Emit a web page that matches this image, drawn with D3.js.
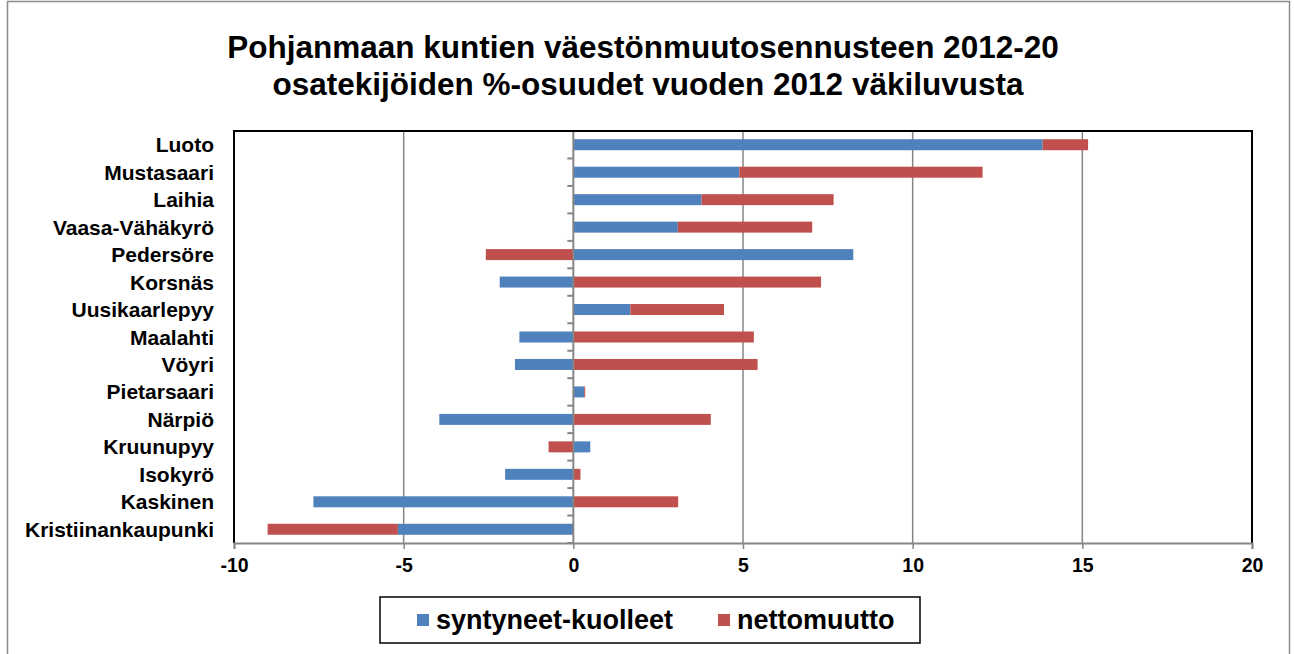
<!DOCTYPE html>
<html>
<head>
<meta charset="utf-8">
<script src="https://cdn.jsdelivr.net/npm/d3@7"></script>
<style>
  body { margin: 0; background: #fff; }
  svg { font-family: "Liberation Sans", Arial, sans-serif; }
</style>
</head>
<body>
<script>
// kunnat ylhäältä alas
var kunnat = ["Luoto", "Mustasaari", "Laihia", "Vaasa-Vähäkyrö", "Pedersöre", "Korsnäs",
    "Uusikaarlepyy", "Maalahti", "Vöyri", "Pietarsaari", "Närpiö", "Kruunupyy",
    "Isokyrö", "Kaskinen", "Kristiinankaupunki"];
var syntyneetKuolleet = [13.83, 4.89, 3.78, 3.08, 8.25, -2.17, 1.68, -1.59, -1.72, 0.32, -3.95, 0.50, -2.01, -7.66, -5.17];
var nettomuutto = [1.34, 7.17, 3.89, 3.96, -2.58, 7.30, 2.76, 5.32, 5.43, 0.03, 4.05, -0.73, 0.21, 3.09, -3.84];
var sarjat = ["syntyneet-kuolleet", "nettomuutto"];
var varit = ["#4F81BD", "#C0504D"];
var xTicks = [-10, -5, 0, 5, 10, 15, 20];

var W = 1294, H = 654;
var pLeft = 234, pRight = 1252, pTop = 131, pBottom = 543;

var svg = d3.select("body").append("svg")
    .attr("width", W)
    .attr("height", H);

// ulkokehys
svg.append("rect")
    .attr("x", 7.5).attr("y", 1.5)
    .attr("width", 1282).attr("height", 660)
    .attr("fill", "#fff")
    .attr("stroke", "#8c8c8c")
    .attr("stroke-width", 1.5);

var title = svg.append("text")
    .attr("text-anchor", "middle")
    .attr("font-weight", "bold")
    .attr("font-size", 31.5)
    .attr("fill", "#000");
title.append("tspan").attr("x", 643).attr("y", 58).text("Pohjanmaan kuntien väestönmuutosennusteen 2012-20");
title.append("tspan").attr("x", 648).attr("y", 95).text("osatekijöiden %-osuudet vuoden 2012 väkiluvusta");

var x = d3.scaleLinear().domain([-10, 20]).range([pLeft, pRight]);
var y = d3.scaleBand().domain(kunnat).range([pTop, pBottom]).paddingInner(0.6).paddingOuter(0.3);

var rows = kunnat.map(function(k, i) {
    return { kunta: k, "syntyneet-kuolleet": syntyneetKuolleet[i], "nettomuutto": nettomuutto[i] };
});
var stack = d3.stack().keys(sarjat).offset(d3.stackOffsetDiverging)(rows);

// pystyviivat
svg.append("g").selectAll("line")
    .data(xTicks.filter(function(d) { return d != -10 && d != 20 && d != 0; }))
  .enter().append("line")
    .attr("x1", function(d) { return x(d); })
    .attr("x2", function(d) { return x(d); })
    .attr("y1", pTop).attr("y2", pBottom)
    .attr("stroke", "#868686")
    .attr("stroke-width", 1.5);

// pylväät
svg.append("g").selectAll("g")
    .data(stack)
  .enter().append("g")
    .attr("fill", function(d, i) { return varit[i]; })
  .selectAll("rect")
    .data(function(d) { return d; })
  .enter().append("rect")
    .attr("x", function(d) { return x(Math.min(d[0], d[1])); })
    .attr("width", function(d) { return Math.abs(x(d[1]) - x(d[0])); })
    .attr("y", function(d) { return y(d.data.kunta); })
    .attr("height", y.bandwidth());

// nollalinja ja kategoriat
var step = y.step();
var catTicks = d3.range(kunnat.length + 1).map(function(i) { return pTop + i * step; });
svg.append("line")
    .attr("x1", x(0)).attr("x2", x(0))
    .attr("y1", pTop).attr("y2", pBottom)
    .attr("stroke", "#868686")
    .attr("stroke-width", 2);
svg.append("g").selectAll("line")
    .data(catTicks)
  .enter().append("line")
    .attr("x1", x(0) - 6).attr("x2", x(0))
    .attr("y1", function(d) { return d; })
    .attr("y2", function(d) { return d; })
    .attr("stroke", "#868686")
    .attr("stroke-width", 2);

// kehys
svg.append("path")
    .attr("d", "M" + pLeft + "," + pBottom + "V" + pTop + "H" + pRight + "V" + pBottom)
    .attr("fill", "none")
    .attr("stroke", "#000")
    .attr("stroke-width", 2);

// x-akseli
var xAxis = svg.append("g")
    .attr("transform", "translate(0," + pBottom + ")")
    .call(d3.axisBottom(x).tickValues(xTicks).tickSize(6).tickPadding(9)
        .tickFormat(function(d) { return String(d); }));
xAxis.select(".domain").attr("stroke", "#868686").attr("stroke-width", 2);
xAxis.selectAll(".tick line").attr("stroke", "#868686").attr("stroke-width", 1.5);
xAxis.selectAll("text")
    .attr("font-size", 19.5).attr("font-weight", "bold").attr("fill", "#000")
    .attr("font-family", "Liberation Sans, Arial, sans-serif");

// kategoriatekstit
svg.append("g").selectAll("text")
    .data(kunnat)
  .enter().append("text")
    .attr("x", 214)
    .attr("y", function(d) { return y(d) + y.bandwidth() / 2; })
    .attr("dy", "0.36em")
    .attr("text-anchor", "end")
    .attr("font-size", 21)
    .attr("font-weight", "bold")
    .text(String);

// selite
var legend = svg.append("g");
legend.append("rect")
    .attr("x", 380).attr("y", 597)
    .attr("width", 540).attr("height", 46)
    .attr("fill", "#fff")
    .attr("stroke", "#000")
    .attr("stroke-width", 1.5);
var lx = [417, 718];
sarjat.forEach(function(s, i) {
    legend.append("rect")
        .attr("x", lx[i]).attr("y", 614)
        .attr("width", 12).attr("height", 12)
        .attr("fill", varit[i]);
    legend.append("text")
        .attr("x", lx[i] + 19).attr("y", 629)
        .attr("font-size", 27)
        .attr("font-weight", "bold")
        .text(s);
});
</script>
</body>
</html>
